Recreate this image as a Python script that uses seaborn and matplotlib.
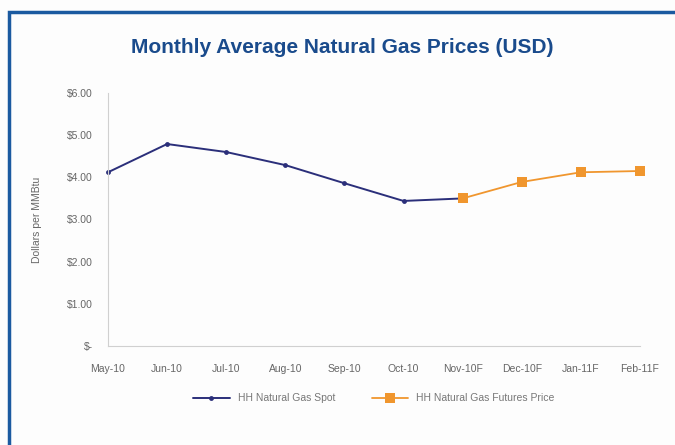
import pandas as pd
import matplotlib.pyplot as plt
import seaborn as sns
from matplotlib.patches import Rectangle
from matplotlib.ticker import FuncFormatter

months = ['May-10', 'Jun-10', 'Jul-10', 'Aug-10', 'Sep-10', 'Oct-10',
          'Nov-10F', 'Dec-10F', 'Jan-11F', 'Feb-11F']
spot_months = months[:7]
spot_prices = [4.12, 4.79, 4.60, 4.29, 3.86, 3.44, 3.50]
futures_months = months[6:]
futures_prices = [3.50, 3.89, 4.12, 4.15]

spot = pd.DataFrame({'month': spot_months, 'price': spot_prices})
futures = pd.DataFrame({'month': futures_months, 'price': futures_prices})
spot['x'] = [months.index(m) for m in spot['month']]
futures['x'] = [months.index(m) for m in futures['month']]

sns.set_style('white')
plt.rcParams['font.family'] = ['Liberation Sans', 'DejaVu Sans']

fig = plt.figure(figsize=(6.75, 4.45), dpi=100)
fig.patch.set_facecolor('#fdfdfd')
ax = fig.add_axes([0.16, 0.2225, 0.788, 0.5685])
ax.set_facecolor('#fdfdfd')

sns.lineplot(data=spot, x='x', y='price', ax=ax, color='#2b2f7a', lw=1.4,
             marker='o', markersize=3.5, markeredgewidth=0,
             label='HH Natural Gas Spot', clip_on=False)
sns.lineplot(data=futures, x='x', y='price', ax=ax, color='#f0962e', lw=1.3,
             marker='s', markersize=7, markeredgewidth=0,
             label='HH Natural Gas Futures Price', clip_on=False)

ax.set_xlim(0, len(months) - 1)
ax.set_ylim(0, 6)
ax.set_xticks(range(len(months)))
ax.set_xticklabels(months)
ax.set_yticks([0, 1, 2, 3, 4, 5, 6])
ax.yaxis.set_major_formatter(FuncFormatter(lambda v, p: '$-' if v == 0 else f'${v:.2f}'))
ax.set_xlabel('')
ax.set_ylabel('Dollars per MMBtu', fontsize=7.5, color='#666666', labelpad=18)
ax.tick_params(axis='both', labelsize=7.5, labelcolor='#666666', colors='#cccccc',
               length=3, width=0.8)
ax.tick_params(axis='x', pad=10)
ax.tick_params(axis='y', pad=8)
for side in ['top', 'right']:
    ax.spines[side].set_visible(False)
for side in ['left', 'bottom']:
    ax.spines[side].set_color('#d0d0d0')
    ax.spines[side].set_linewidth(0.8)

ax.legend(loc='upper center', bbox_to_anchor=(0.5, -0.15), ncol=2, frameon=False,
          fontsize=7.5, labelcolor='#777777', handlelength=3.5, columnspacing=3.5)

fig.text(0.507, 0.893, 'Monthly Average Natural Gas Prices (USD)', ha='center', va='center',
         fontsize=15, fontweight='bold', color='#1a4b8c',
         family=['Liberation Sans Narrow', 'Liberation Sans', 'DejaVu Sans'],
         stretch='condensed')

fig.patches.append(Rectangle((9 / 675, -0.1), 1.2, 1 - 12.5 / 445 + 0.1,
                             transform=fig.transFigure, fill=False,
                             edgecolor='#1b5aa0', linewidth=2.5))

fig.savefig('out.png', dpi=100, facecolor=fig.get_facecolor())
